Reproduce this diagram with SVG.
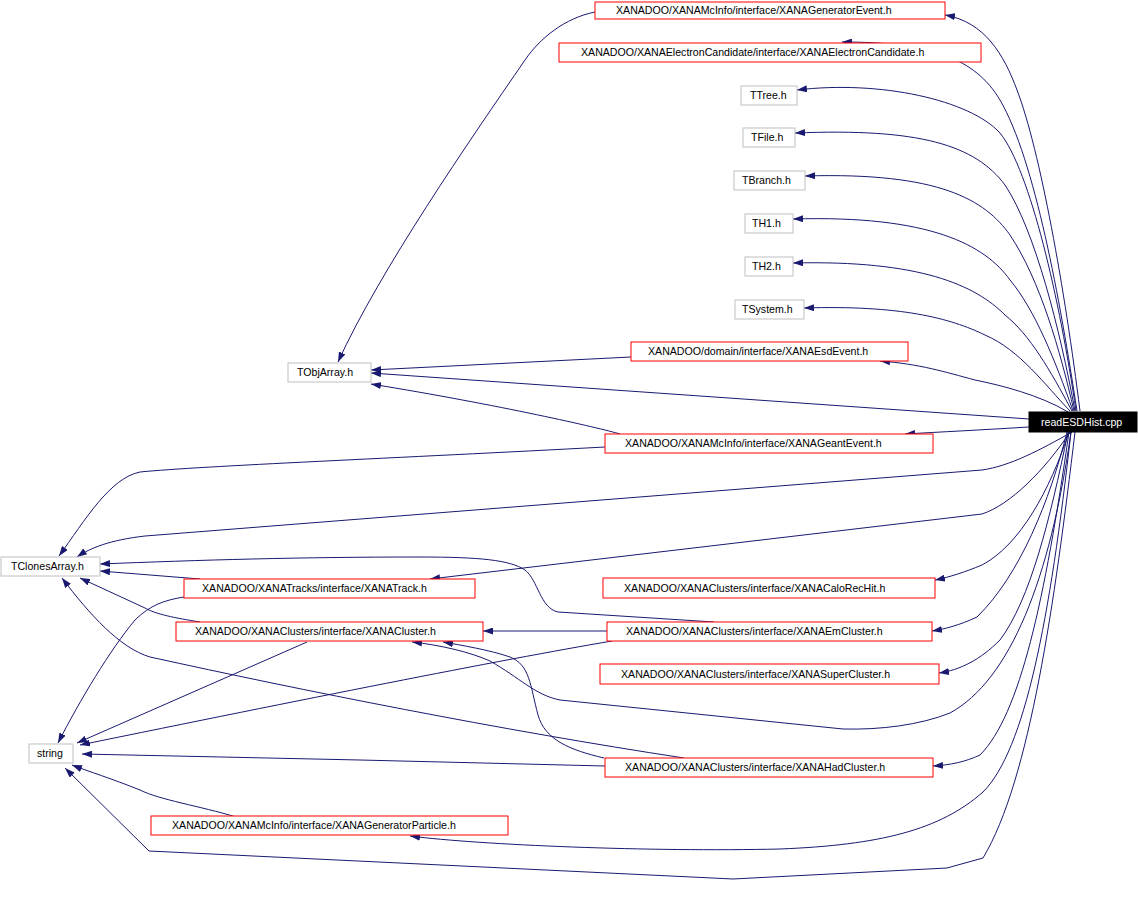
<svg xmlns="http://www.w3.org/2000/svg" width="1138" height="904" viewBox="0 0 1138 904">
<style>
.n rect{fill:#fff;stroke-width:1}
.g rect{stroke:#bfbfbf}
.r rect{stroke:#ff0000}
.m rect{fill:#000;stroke:#000}
text{font-family:"Liberation Sans",Arial,Helvetica,sans-serif;font-size:10.6px;text-anchor:start;fill:#000}
.m text{fill:#fff}
#edges path{fill:none;stroke:#191970;stroke-width:1;marker-end:url(#a)}
</style>
<defs>
<marker id="a" viewBox="0 0 10 7" refX="10" refY="3.5" markerWidth="10" markerHeight="7" markerUnits="userSpaceOnUse" orient="auto">
<path d="M0,0 L10,3.5 L0,7 z" fill="#191970"/>
</marker>
</defs>
<rect width="1138" height="904" fill="#fff"/>
<g id="edges">
<path d="M1080,411 C1065,290 1040,150 1017,90 C1004,55 985,22 945,15"/>
<path d="M1077,411 C1060,300 1035,160 1000,100 C975,58 930,42 842,42"/>
<path d="M1076,411 C1060,300 1030,170 1000,133 C970,100 880,80 797,90"/>
<path d="M1075,411 C1060,330 1035,230 1005,185 C975,145 920,128 795,133"/>
<path d="M1074,411 C1060,350 1040,280 1010,235 C985,200 940,172 805,176"/>
<path d="M1073,411 C1055,360 1035,310 1010,280 C985,245 930,215 793,219"/>
<path d="M1072,411 C1050,370 1030,335 1005,315 C975,285 920,260 793,263"/>
<path d="M1070,411 C1045,385 1020,350 985,335 C950,318 900,305 804,308"/>
<path d="M1068,412 C1040,395 1000,385 975,380 C945,372 920,364 880,361"/>
<path d="M1029,419 L371,373"/>
<path d="M1029,427 C980,430 940,432 905,434"/>
<path d="M1072,432 C1040,450 1010,466 982,470 L145,536 C110,540 90,548 77,557"/>
<path d="M1070,432 C1045,470 1010,505 982,514 L430,579"/>
<path d="M1069,432 C1050,490 1020,545 982,565 C965,572 950,577 935,580"/>
<path d="M1067,432 C1050,500 1020,575 977,617 C960,625 945,629 932,631"/>
<path d="M1068,432 C1050,520 1030,600 1000,640 C980,660 960,670 939,673"/>
<path d="M1071,432 C1050,580 1010,680 950,713 C920,725 880,730 843,729 L560,700 C535,695 520,678 490,661 C470,652 440,645 412,642"/>
<path d="M1069,432 C1045,600 1020,715 980,755 C965,762 950,765 933,766"/>
<path d="M1071,432 C1050,620 1025,750 983,792 C940,830 880,845 780,849 C650,852 480,845 410,836"/>
<path d="M1075,432 C1055,600 1030,780 983,858 L947,868 L733,879 L149,851 L65,768"/>
<path d="M595,12 C565,18 540,38 525,60 C470,140 380,270 338,362"/>
<path d="M631,357 L371,370"/>
<path d="M620,434 C600,428 500,405 371,384"/>
<path d="M605,447 C400,458 200,466 140,472 C110,478 85,520 59,556"/>
<path d="M714,622 L558,612 C540,608 538,580 525,570 C510,560 480,557 419,557 C300,557 200,560 100,564"/>
<path d="M200,579 L100,571"/>
<path d="M200,622 C175,618 155,614 145,608 L80,578"/>
<path d="M684,758 C500,730 300,690 150,657 C120,648 90,615 62,578"/>
<path d="M607,631 L483,631"/>
<path d="M604,758 C570,750 545,740 538,715 C530,685 530,665 510,657 C490,650 460,645 443,642"/>
<path d="M184,597 C165,600 150,605 135,620 C110,650 80,700 58,743"/>
<path d="M307,642 L77,743"/>
<path d="M612,641 C500,660 300,700 80,745"/>
<path d="M605,766 L360,760 L82,754"/>
<path d="M236,817 C200,806 160,800 140,790 C110,778 90,772 72,765"/>
</g>
<g id="readESDHist" class="n m"><rect x="1029" y="412" width="108" height="20"/><text x="1041" y="426">readESDHist.cpp</text></g>
<g id="GeneratorEvent" class="n r"><rect x="595" y="2" width="350" height="17"/><text x="616" y="14">XANADOO/XANAMcInfo/interface/XANAGeneratorEvent.h</text></g>
<g id="ElectronCandidate" class="n r"><rect x="559" y="43" width="422" height="19"/><text x="581" y="56">XANADOO/XANAElectronCandidate/interface/XANAElectronCandidate.h</text></g>
<g id="TTree" class="n g"><rect x="741" y="86" width="56" height="19"/><text x="750" y="99">TTree.h</text></g>
<g id="TFile" class="n g"><rect x="743" y="128" width="52" height="19"/><text x="751" y="141">TFile.h</text></g>
<g id="TBranch" class="n g"><rect x="734" y="171" width="71" height="19"/><text x="742" y="184">TBranch.h</text></g>
<g id="TH1" class="n g"><rect x="745" y="214" width="48" height="19"/><text x="752" y="227">TH1.h</text></g>
<g id="TH2" class="n g"><rect x="745" y="257" width="48" height="19"/><text x="752" y="270">TH2.h</text></g>
<g id="TSystem" class="n g"><rect x="735" y="300" width="69" height="19"/><text x="742" y="313">TSystem.h</text></g>
<g id="EsdEvent" class="n r"><rect x="631" y="342" width="277" height="19"/><text x="648" y="355">XANADOO/domain/interface/XANAEsdEvent.h</text></g>
<g id="TObjArray" class="n g"><rect x="288" y="363" width="83" height="19"/><text x="297" y="376">TObjArray.h</text></g>
<g id="GeantEvent" class="n r"><rect x="605" y="434" width="328" height="19"/><text x="625" y="447">XANADOO/XANAMcInfo/interface/XANAGeantEvent.h</text></g>
<g id="TClonesArray" class="n g"><rect x="1" y="557" width="99" height="19"/><text x="11" y="570">TClonesArray.h</text></g>
<g id="XANATrack" class="n r"><rect x="184" y="579" width="291" height="19"/><text x="202" y="592">XANADOO/XANATracks/interface/XANATrack.h</text></g>
<g id="CaloRecHit" class="n r"><rect x="603" y="578" width="332" height="20"/><text x="624" y="592">XANADOO/XANAClusters/interface/XANACaloRecHit.h</text></g>
<g id="XANACluster" class="n r"><rect x="176" y="622" width="307" height="19"/><text x="195" y="635">XANADOO/XANAClusters/interface/XANACluster.h</text></g>
<g id="EmCluster" class="n r"><rect x="607" y="622" width="325" height="19"/><text x="626" y="635">XANADOO/XANAClusters/interface/XANAEmCluster.h</text></g>
<g id="SuperCluster" class="n r"><rect x="600" y="664" width="339" height="20"/><text x="621" y="678">XANADOO/XANAClusters/interface/XANASuperCluster.h</text></g>
<g id="string" class="n g"><rect x="29" y="744" width="44" height="19"/><text x="37" y="757">string</text></g>
<g id="HadCluster" class="n r"><rect x="605" y="758" width="328" height="19"/><text x="625" y="771">XANADOO/XANAClusters/interface/XANAHadCluster.h</text></g>
<g id="GeneratorParticle" class="n r"><rect x="151" y="816" width="357" height="19"/><text x="172" y="829">XANADOO/XANAMcInfo/interface/XANAGeneratorParticle.h</text></g>
</svg>
